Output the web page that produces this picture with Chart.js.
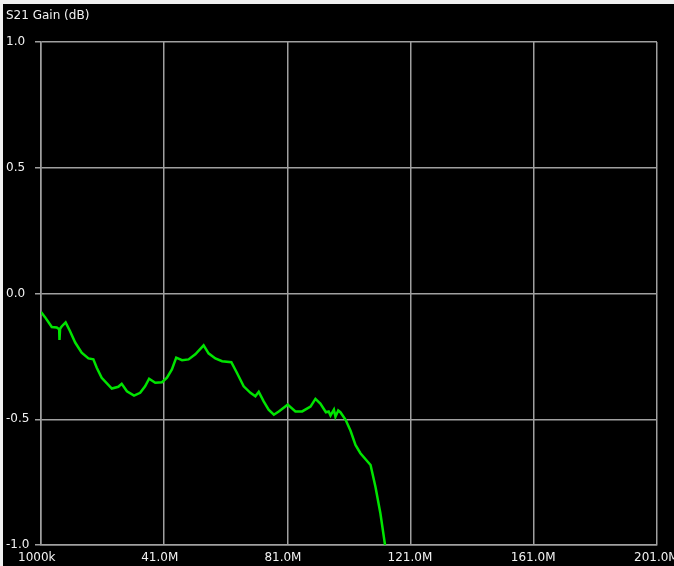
<!DOCTYPE html>
<html lang="en">
<head>
    <meta charset="UTF-8">
    <title>S21 Gain</title>
    <script src="https://cdn.jsdelivr.net/npm/chart.js"></script>
    <style>
        html, body {
            margin: 0;
            padding: 0;
            background-color: #f0f0f0;
            overflow: hidden;
        }
        .wrap {
            position: absolute;
            left: 3px;
            top: 4px;
            width: 671px;
            height: 562px;
            background-color: #000;
        }
    </style>
</head>
<body>
    <div class="wrap">
        <canvas id="s21Chart" width="671" height="562"></canvas>
    </div>

    <script>
        const freqMHz = [
            1.0, 2.3, 4.5, 6.1, 6.9, 7.0, 7.2, 7.7, 9.0, 10.4, 12.1, 14.2, 16.4, 18.0,
            19.1, 20.7, 24.0, 26.1, 27.2, 28.9, 31.2, 33.2, 34.8, 36.1, 38.1, 40.3,
            41.9, 43.5, 44.9, 46.8, 48.9, 51.1, 53.8, 55.4, 57.6, 59.8, 62.8, 64.6,
            66.8, 69.0, 70.6, 71.7, 73.3, 74.9, 76.6, 78.2, 81.1, 83.6, 85.8, 88.5,
            90.1, 91.7, 93.5, 94.4, 95.0, 96.1, 96.6, 97.5, 98.2, 99.9, 101.5, 103.1,
            104.7, 108.0, 109.6, 111.2, 112.7
        ];
        const gainDb = [
            -0.074, -0.094, -0.133, -0.135, -0.142, -0.185, -0.140, -0.131, -0.115, -0.149,
            -0.195, -0.235, -0.258, -0.262, -0.295, -0.335, -0.378, -0.371, -0.359, -0.389,
            -0.406, -0.395, -0.369, -0.339, -0.355, -0.353, -0.335, -0.302, -0.255, -0.265,
            -0.262, -0.242, -0.206, -0.238, -0.258, -0.269, -0.273, -0.315, -0.369, -0.395,
            -0.409, -0.391, -0.429, -0.462, -0.482, -0.469, -0.442, -0.469, -0.469, -0.450,
            -0.419, -0.438, -0.472, -0.469, -0.485, -0.462, -0.490, -0.465, -0.472, -0.502,
            -0.546, -0.602, -0.635, -0.682, -0.769, -0.875, -1.0
        ];

        // Axis ticks
        const xTickValues = [1, 41, 81, 121, 161, 201];
        const xTickLabels = ['1000k', '41.0M', '81.0M', '121.0M', '161.0M', '201.0M'];
        const yTickValues = [-1.0, -0.5, 0.0, 0.5, 1.0];
        const yTickLabels = ['-1.0', '-0.5', '0.0', '0.5', '1.0'];

        const gridColor = '#a0a0a0';
        const textColor = '#f2f2f2';
        const font = { family: 'DejaVu Sans', size: 12 };

        const points = freqMHz.map((f, i) => ({ x: f, y: gainDb[i] }));

        const ctx = document.getElementById('s21Chart').getContext('2d');
        const chart = new Chart(ctx, {
            type: 'line',
            data: {
                datasets: [{
                    label: 'S21',
                    data: points,
                    borderColor: '#00e400',
                    borderWidth: 2.5,
                    pointRadius: 0,
                    tension: 0
                }]
            },
            options: {
                responsive: false,
                animation: false,
                layout: {
                    padding: { left: 3, right: 17, top: 0, bottom: 0 }
                },
                plugins: {
                    legend: { display: false },
                    tooltip: { enabled: false },
                    title: {
                        display: true,
                        text: 'S21 Gain (dB)',
                        align: 'start',
                        color: textColor,
                        font: { family: 'DejaVu Sans', size: 12, weight: 'normal' },
                        padding: { top: 5, bottom: 18.6 }
                    }
                },
                scales: {
                    x: {
                        type: 'linear',
                        min: 1,
                        max: 201,
                        afterBuildTicks: scale => {
                            scale.ticks = xTickValues.map(v => ({ value: v }));
                        },
                        afterFit: scale => {
                            scale.height = 21;
                            scale.paddingLeft = 0;
                            scale.paddingRight = 0;
                        },
                        grid: { color: gridColor, lineWidth: 1.5, drawTicks: false },
                        border: { color: gridColor, width: 1.5 },
                        ticks: {
                            color: textColor,
                            font: font,
                            padding: 6,
                            align: 'start',
                            labelOffset: -23,
                            maxRotation: 0,
                            autoSkip: false,
                            callback: (value, index) => xTickLabels[index]
                        }
                    },
                    y: {
                        type: 'linear',
                        min: -1,
                        max: 1,
                        afterBuildTicks: scale => {
                            scale.ticks = yTickValues.map(v => ({ value: v }));
                        },
                        afterFit: scale => { scale.width = 35; },
                        grid: { color: gridColor, lineWidth: 1.5, tickLength: 6 },
                        border: { color: gridColor, width: 1.5 },
                        ticks: {
                            color: textColor,
                            font: font,
                            crossAlign: 'far',
                            autoSkip: false,
                            callback: (value, index) => yTickLabels[index]
                        }
                    }
                }
            }
        });
    </script>
</body>
</html>
